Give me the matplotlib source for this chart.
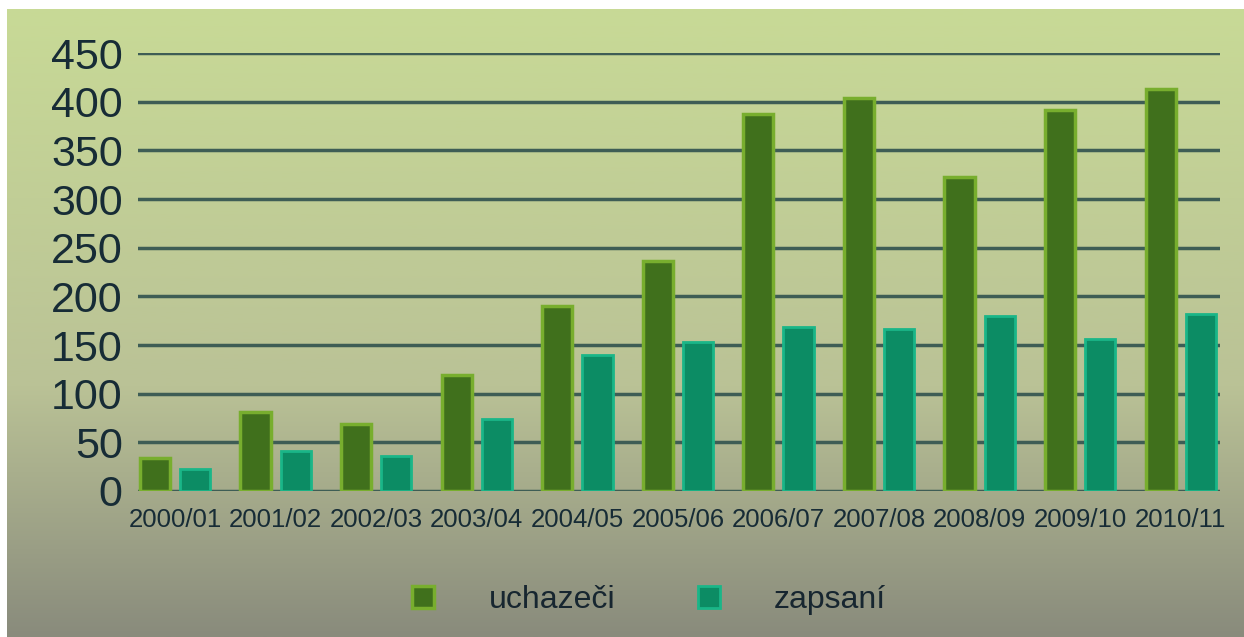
import numpy as np
import matplotlib.pyplot as plt

years = ["2000/01", "2001/02", "2002/03", "2003/04", "2004/05", "2005/06",
         "2006/07", "2007/08", "2008/09", "2009/10", "2010/11"]
uchazeci = [34, 81, 69, 119, 190, 236, 387, 404, 323, 391, 413]
zapsani = [23, 41, 36, 74, 140, 153, 169, 166, 180, 156, 182]
yticks = [0, 50, 100, 150, 200, 250, 300, 350, 400, 450]

plt.rcParams['font.family'] = ['Liberation Sans', 'DejaVu Sans']

W, H = 1244, 637
fig = plt.figure(figsize=(W / 100, H / 100), dpi=100)
fig.patch.set_facecolor("white")

# background gradient
bg = fig.add_axes([0, 0, 1, 1])
bg.set_xlim(0, W)
bg.set_ylim(H, 0)
bg.axis("off")
top = np.array([200, 218, 150]) / 255
mid = np.array([186, 194, 150]) / 255
bot = np.array([137, 139, 124]) / 255
t = np.linspace(0, 1, 256)[:, None]
grad = np.where(t < 0.6, top + (mid - top) * (t / 0.6), mid + (bot - mid) * ((t - 0.6) / 0.4))
bg.imshow(grad[:, None, :], extent=[7, W, H, 9], aspect="auto", interpolation="bilinear")

ax = fig.add_axes([138 / W, 1 - 491 / H, (1220 - 138) / W, (491 - 53) / H])
ax.patch.set_alpha(0)
x = np.arange(len(years))
w = 0.30
b1 = ax.bar(x - 0.2, uchazeci, w, color="#40701c", edgecolor="#78ae2e", linewidth=2.5,
            label="uchazeči", zorder=3)
b2 = ax.bar(x + 0.2, zapsani, w, color="#0c8c64", edgecolor="#1ab688", linewidth=2.0,
            label="zapsaní", zorder=3)

ax.set_ylim(0, 450)
ax.set_xlim(-0.368, 10.39)
ax.set_yticks(yticks)
ax.set_xticks(x)
ax.set_xticklabels(years, fontsize=18.5, color="#172c36")
ax.tick_params(axis="y", labelsize=31, colors="#172c36", length=0, pad=11)
ax.tick_params(axis="x", length=0, pad=12)
for s in ax.spines.values():
    s.set_visible(False)
ax.yaxis.grid(True, color="#3e5d55", linewidth=2.5, zorder=1)
ax.set_axisbelow(True)

fig.legend(handles=[b1, b2], loc="center", bbox_to_anchor=(0.522, 1 - 600 / H), ncol=2,
           frameon=False, fontsize=23, handlelength=0.68, handleheight=0.68,
           handletextpad=1.7, columnspacing=2.6, labelcolor="#172630")

fig.savefig("out.png", dpi=100, facecolor=fig.get_facecolor())
